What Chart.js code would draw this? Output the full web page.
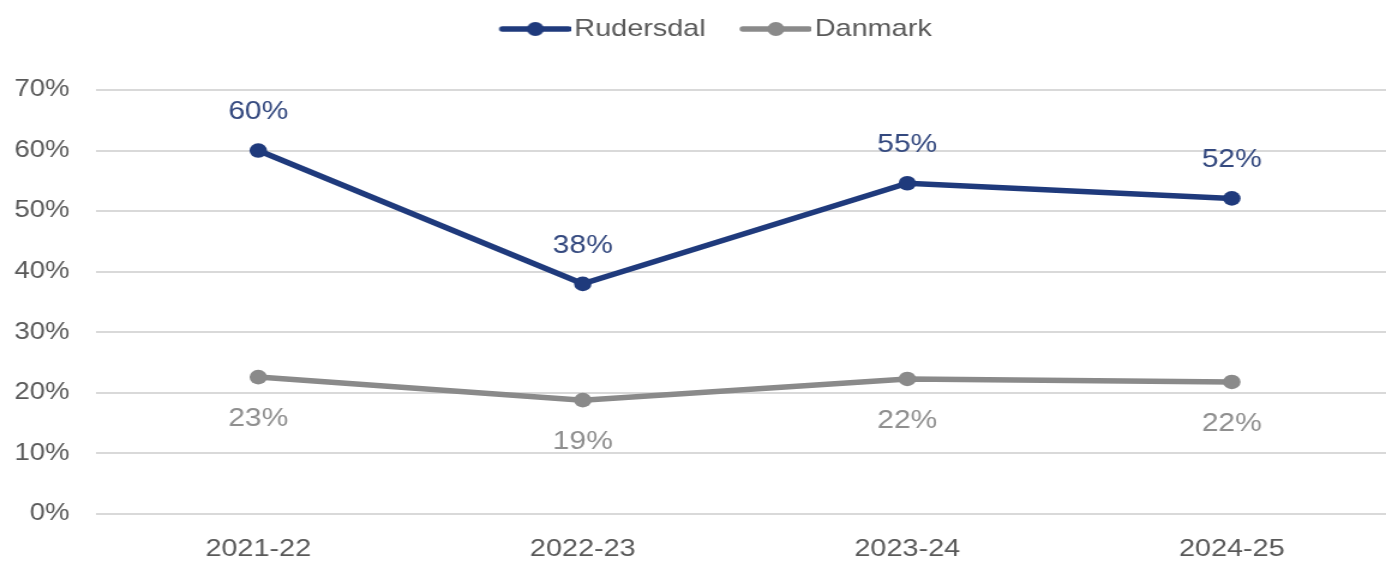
<!DOCTYPE html>
<html>
<head>
<meta charset="utf-8">
<script src="https://cdn.jsdelivr.net/npm/chart.js@4.4.1/dist/chart.umd.min.js"></script>
<style>
  html, body { margin: 0; padding: 0; background: #ffffff; overflow: hidden; }
  #wrap { position: relative; width: 1386px; height: 563px; overflow: hidden; background: #fff; }
  #c { position: absolute; left: 0; top: 0; transform: scaleX(1.2); transform-origin: 0 0; }
</style>
</head>
<body>
<div id="wrap"><canvas id="c" width="1169" height="563"></canvas></div>
<script>
const categories = ['2021-22', '2022-23', '2023-24', '2024-25'];
const seriesNames = ['Rudersdal', 'Danmark'];
const rudersdal = [60, 38, 54.6, 52.1];
const danmark = [22.6, 18.8, 22.3, 21.8];
const rudersdalLabels = ['60%', '38%', '55%', '52%'];
const danmarkLabels = ['23%', '19%', '22%', '22%'];
const yTicks = [0, 10, 20, 30, 40, 50, 60, 70];

const BLUE = '#1f3a7c';
const BLUE_TXT = '#34497f';
const GRAY = '#8a8a8a';
const GRAY_TXT = '#8f8f8f';
const AXIS_TXT = '#595959';
const FONT = "'Liberation Sans', Arial, sans-serif";

function legendImage(color) {
  const c = document.createElement('canvas');
  c.width = 82; c.height = 20;
  const x = c.getContext('2d');
  x.strokeStyle = color; x.lineWidth = 5.5; x.lineCap = 'round';
  x.beginPath(); x.moveTo(25, 10); x.lineTo(80, 10); x.stroke();
  x.fillStyle = color;
  x.beginPath(); x.arc(52.5, 10, 7, 0, Math.PI * 2); x.fill();
  return c;
}
const legendImgs = [legendImage(BLUE), legendImage(GRAY)];

const dataLabelPlugin = {
  id: 'dataLabels',
  afterDatasetsDraw(chart) {
    const ctx = chart.ctx;
    const sets = [
      { labels: rudersdalLabels, color: BLUE_TXT, dy: -38 },
      { labels: danmarkLabels, color: GRAY_TXT, dy: 42 }
    ];
    sets.forEach((s, di) => {
      const meta = chart.getDatasetMeta(di);
      meta.data.forEach((el, i) => {
        ctx.save();
        ctx.font = '25px ' + FONT;
        ctx.fillStyle = s.color;
        ctx.textAlign = 'center';
        ctx.textBaseline = 'middle';
        ctx.fillText(s.labels[i], el.x, el.y + s.dy);
        ctx.restore();
      });
    });
  }
};

const legendHeightPlugin = {
  id: 'legendHeight',
  beforeInit(chart) {
    const orig = chart.legend.fit;
    chart.legend.fit = function () {
      orig.bind(chart.legend)();
      this.height = 90;
    };
  },
  afterLayout(chart) {
    const lg = chart.legend;
    lg.left += 6; lg.right += 6;
    lg.top += 2;
  }
};

new Chart(document.getElementById('c'), {
  type: 'line',
  data: {
    labels: categories,
    datasets: [
      {
        label: seriesNames[0], data: rudersdal,
        borderColor: BLUE, backgroundColor: BLUE,
        borderWidth: 5.5, pointRadius: 7.3, pointHoverRadius: 7.3,
        pointBackgroundColor: BLUE, pointBorderWidth: 0, tension: 0
      },
      {
        label: seriesNames[1], data: danmark,
        borderColor: GRAY, backgroundColor: GRAY,
        borderWidth: 5.5, pointRadius: 7.3, pointHoverRadius: 7.3,
        pointBackgroundColor: GRAY, pointBorderWidth: 0, tension: 0
      }
    ]
  },
  options: {
    responsive: false,
    animation: false,
    devicePixelRatio: 1,
    layout: { padding: { left: 0, right: 2, top: 0, bottom: 0 } },
    plugins: {
      tooltip: { enabled: false },
      legend: {
        position: 'top',
        align: 'center',
        labels: {
          usePointStyle: true,
          pointStyleWidth: 64,
          padding: 15,
          color: AXIS_TXT,
          font: { size: 24, family: FONT },
          generateLabels(chart) {
            const items = Chart.defaults.plugins.legend.labels.generateLabels(chart);
            items.forEach((it, i) => { it.pointStyle = legendImgs[i]; });
            return items;
          }
        }
      }
    },
    scales: {
      x: {
        type: 'category',
        offset: true,
        grid: { display: false, drawTicks: false },
        border: { display: false },
        ticks: { color: AXIS_TXT, font: { size: 24, family: FONT }, padding: 21, maxRotation: 0 },
        afterFit(scale) { scale.height = 49; }
      },
      y: {
        min: 0, max: 70,
        afterBuildTicks(scale) { scale.ticks = yTicks.map(v => ({ value: v })); },
        grid: { color: '#d9d9d9', lineWidth: 2, drawTicks: false },
        border: { display: false },
        ticks: {
          color: AXIS_TXT, font: { size: 23, family: FONT }, padding: 22,
          callback: v => v + '%'
        },
        afterFit(scale) { scale.width = 80; }
      }
    }
  },
  plugins: [dataLabelPlugin, legendHeightPlugin]
});
</script>
</body>
</html>
